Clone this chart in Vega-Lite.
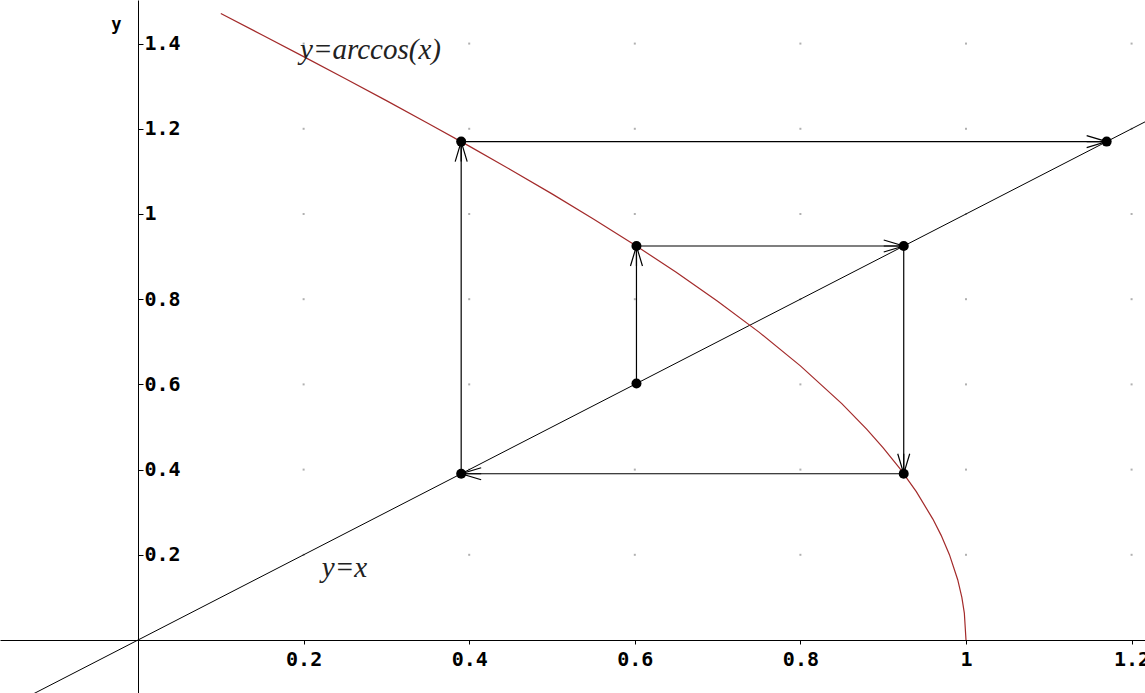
{
  "$schema": "https://vega.github.io/schema/vega-lite/v6.json",
  "width": 1145,
  "height": 693,
  "padding": 0,
  "autosize": {"type": "none"},
  "background": "white",
  "config": {"view": {"stroke": null}},
  "encoding": {
    "x": {
      "field": "x",
      "type": "quantitative",
      "scale": {"domain": [-0.1667, 1.2162], "nice": false, "zero": false},
      "axis": {
        "orient": "bottom",
        "offset": -53,
        "values": [0.2, 0.4, 0.6, 0.8, 1, 1.2],
        "format": ".1~f",
        "title": null,
        "grid": false,
        "domainColor": "black",
        "tickColor": "black",
        "tickSize": 4,
        "labelPadding": 5,
        "labelColor": "black",
        "labelFont": "DejaVu Sans Mono",
        "labelFontWeight": "bold",
        "labelFontSize": 20,
        "labelFlush": false,
        "labelOverlap": false,
        "labelBound": false
      }
    },
    "y": {
      "field": "y",
      "type": "quantitative",
      "scale": {"domain": [-0.1244, 1.5023], "nice": false, "zero": false},
      "axis": {
        "orient": "right",
        "offset": -1007,
        "values": [0.2, 0.4, 0.6, 0.8, 1, 1.2, 1.4],
        "format": ".1~f",
        "title": null,
        "grid": false,
        "domainColor": "black",
        "tickColor": "black",
        "tickSize": 5,
        "labelPadding": 1,
        "labelColor": "black",
        "labelFont": "DejaVu Sans Mono",
        "labelFontWeight": "bold",
        "labelFontSize": 20,
        "labelAlign": "left",
        "labelBaseline": "middle",
        "labelFlush": false,
        "labelOverlap": false,
        "labelBound": false
      }
    }
  },
  "layer": [
    {
      "data": {
        "values": [
          {"x": 0.2, "ys": [0.2, 0.4, 0.6, 0.8, 1, 1.2, 1.4]},
          {"x": 0.4, "ys": [0.2, 0.4, 0.6, 0.8, 1, 1.2, 1.4]},
          {"x": 0.6, "ys": [0.2, 0.4, 0.6, 0.8, 1, 1.2, 1.4]},
          {"x": 0.8, "ys": [0.2, 0.4, 0.6, 0.8, 1, 1.2, 1.4]},
          {"x": 1.0, "ys": [0.2, 0.4, 0.6, 0.8, 1, 1.2, 1.4]},
          {"x": 1.2, "ys": [0.2, 0.4, 0.6, 0.8, 1, 1.2, 1.4]}
        ]
      },
      "transform": [{"flatten": ["ys"], "as": ["y"]}],
      "mark": {"type": "square", "size": 4, "color": "#b0b0b0", "opacity": 1}
    },
    {
      "data": {"values": [{"x": -0.2, "y": -0.2}, {"x": 1.25, "y": 1.25}]},
      "mark": {"type": "line", "color": "black", "strokeWidth": 1, "clip": true}
    },
    {
      "data": {
        "values": [
          {"x": 0.10, "y": 1.4706}, {"x": 0.15, "y": 1.4202}, {"x": 0.20, "y": 1.3694},
          {"x": 0.25, "y": 1.3181}, {"x": 0.30, "y": 1.2661}, {"x": 0.35, "y": 1.2132},
          {"x": 0.40, "y": 1.1593}, {"x": 0.45, "y": 1.1040}, {"x": 0.50, "y": 1.0472},
          {"x": 0.55, "y": 0.9884}, {"x": 0.60, "y": 0.9273}, {"x": 0.65, "y": 0.8632},
          {"x": 0.70, "y": 0.7954}, {"x": 0.75, "y": 0.7227}, {"x": 0.80, "y": 0.6435},
          {"x": 0.85, "y": 0.5548}, {"x": 0.88, "y": 0.4949}, {"x": 0.90, "y": 0.4510},
          {"x": 0.92, "y": 0.4027}, {"x": 0.94, "y": 0.3482}, {"x": 0.96, "y": 0.2838},
          {"x": 0.97, "y": 0.2456}, {"x": 0.98, "y": 0.2003}, {"x": 0.99, "y": 0.1415},
          {"x": 0.995, "y": 0.1000}, {"x": 0.998, "y": 0.0633}, {"x": 1.0, "y": 0.0}
        ]
      },
      "mark": {"type": "line", "color": "#a32a2a", "strokeWidth": 1.2, "clip": true}
    },
    {
      "data": {
        "values": [
          {"x": 0.602, "y": 0.602, "x2": 0.602, "y2": 0.9248, "dir": "up"},
          {"x": 0.602, "y": 0.9248, "x2": 0.9248, "y2": 0.9248, "dir": "right"},
          {"x": 0.9248, "y": 0.9248, "x2": 0.9248, "y2": 0.3903, "dir": "down"},
          {"x": 0.9248, "y": 0.3903, "x2": 0.3903, "y2": 0.3903, "dir": "left"},
          {"x": 0.3903, "y": 0.3903, "x2": 0.3903, "y2": 1.1699, "dir": "up"},
          {"x": 0.3903, "y": 1.1699, "x2": 1.1699, "y2": 1.1699, "dir": "right"}
        ]
      },
      "layer": [
        {
          "mark": {"type": "rule", "color": "black", "strokeWidth": 1.2},
          "encoding": {"x2": {"field": "x2"}, "y2": {"field": "y2"}}
        },
        {
          "transform": [{"filter": "datum.dir === 'up'"}],
          "mark": {"type": "point", "shape": "M -0.3 1 L 0 0 L 0.3 1 M 0 0 L 0 1", "angle": 0, "filled": false, "size": 1600, "color": "black", "strokeWidth": 1.2, "opacity": 1},
          "encoding": {"x": {"field": "x2", "type": "quantitative"}, "y": {"field": "y2", "type": "quantitative"}}
        },
        {
          "transform": [{"filter": "datum.dir === 'right'"}],
          "mark": {"type": "point", "shape": "M -0.3 1 L 0 0 L 0.3 1 M 0 0 L 0 1", "angle": 90, "filled": false, "size": 1600, "color": "black", "strokeWidth": 1.2, "opacity": 1},
          "encoding": {"x": {"field": "x2", "type": "quantitative"}, "y": {"field": "y2", "type": "quantitative"}}
        },
        {
          "transform": [{"filter": "datum.dir === 'down'"}],
          "mark": {"type": "point", "shape": "M -0.3 1 L 0 0 L 0.3 1 M 0 0 L 0 1", "angle": 180, "filled": false, "size": 1600, "color": "black", "strokeWidth": 1.2, "opacity": 1},
          "encoding": {"x": {"field": "x2", "type": "quantitative"}, "y": {"field": "y2", "type": "quantitative"}}
        },
        {
          "transform": [{"filter": "datum.dir === 'left'"}],
          "mark": {"type": "point", "shape": "M -0.3 1 L 0 0 L 0.3 1 M 0 0 L 0 1", "angle": 270, "filled": false, "size": 1600, "color": "black", "strokeWidth": 1.2, "opacity": 1},
          "encoding": {"x": {"field": "x2", "type": "quantitative"}, "y": {"field": "y2", "type": "quantitative"}}
        }
      ]
    },
    {
      "data": {
        "values": [
          {"x": 0.602, "y": 0.602},
          {"x": 0.602, "y": 0.9248},
          {"x": 0.9248, "y": 0.9248},
          {"x": 0.9248, "y": 0.3903},
          {"x": 0.3903, "y": 0.3903},
          {"x": 0.3903, "y": 1.1699},
          {"x": 1.1699, "y": 1.1699}
        ]
      },
      "mark": {"type": "circle", "size": 100, "color": "black", "opacity": 1}
    },
    {
      "data": {
        "values": [
          {"x": 0.1957, "y": 1.385, "label": "y=arccos(x)"},
          {"x": 0.222, "y": 0.169, "label": "y=x"}
        ]
      },
      "mark": {
        "type": "text",
        "align": "left",
        "baseline": "middle",
        "font": "Liberation Serif",
        "fontStyle": "italic",
        "fontSize": 29,
        "color": "#222"
      },
      "encoding": {"text": {"field": "label"}}
    },
    {
      "data": {"values": [{"x": -0.026, "y": 1.444, "label": "y"}]},
      "mark": {
        "type": "text",
        "align": "center",
        "baseline": "middle",
        "font": "DejaVu Sans Mono",
        "fontWeight": "bold",
        "fontSize": 17,
        "color": "black"
      },
      "encoding": {"text": {"field": "label"}}
    }
  ]
}
